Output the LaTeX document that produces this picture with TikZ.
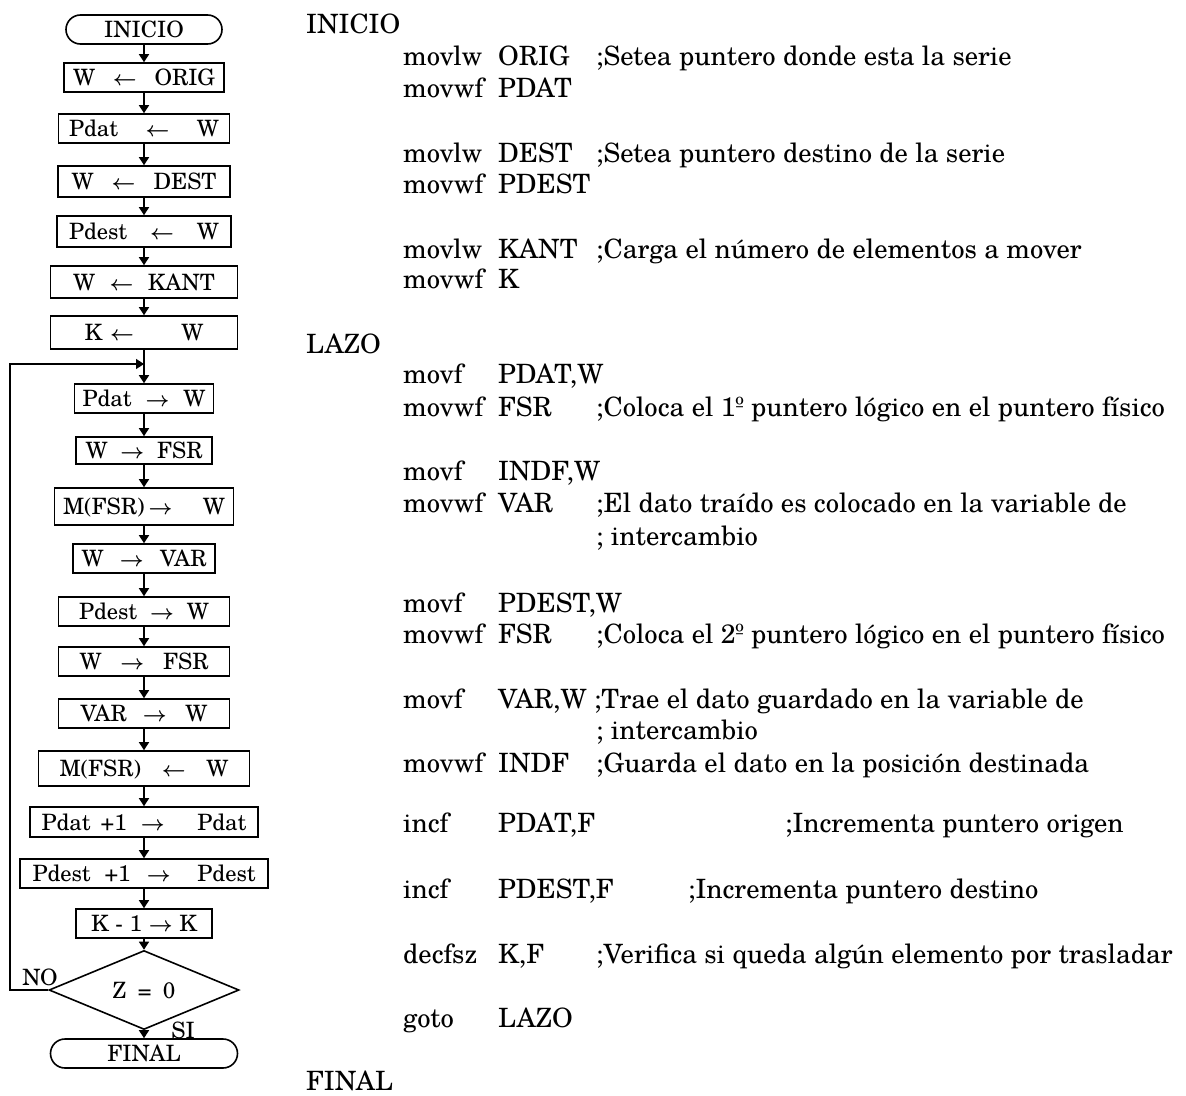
\documentclass[tikz,border=0pt]{standalone}
\usepackage{fontspec}
\setmainfont{TeX Gyre Schola}
\usetikzlibrary{shapes.geometric,shapes.misc,arrows.meta}

% spread the parts of a flowchart label over a fixed width
\newcommand\flrow[2]{\makebox[#1pt]{#2}}
% heavier assignment arrows for the flowchart labels
\newcommand\lar{{\boldmath$\leftarrow$}}
\newcommand\rar{{\boldmath$\rightarrow$}}
% one line of assembler: mnemonic, operand, comment (comment x given)
\newcommand\asmline[6]{%
  \node[code] (#1m) at (403,#2) {#3};
  \node[code] (#1o) at (498,#2) {#4};
  \node[code] (#1c) at (#5,#2) {#6};}

\begin{document}
\begin{tikzpicture}[x=1pt,y=-1pt,
  flow/.style={draw, line width=1.6pt, inner sep=0pt,
    font=\fontsize{22.5}{26}\selectfont, text height=16pt, text depth=0pt},
  proc/.style={flow, rectangle},
  term/.style={flow, rounded rectangle, minimum height=29pt},
  cond/.style={flow, diamond, minimum width=190pt, minimum height=56pt},
  link/.style={line width=1.6pt, -{Triangle[length=8pt,width=10pt]}},
  tag/.style={inner sep=0pt, font=\fontsize{22.5}{26}\selectfont},
  code/.style={anchor=base west, inner sep=0pt, font=\fontsize{26.6}{31}\selectfont}]
\useasboundingbox (0,0) rectangle (1186,1095);

% ---- flowchart ----
\node[term, minimum width=156pt] (t0) at (144,29.5) {INICIO};
\node[proc, minimum width=160pt, minimum height=29pt] (b1) at (144,77.5) {\flrow{142}{W\hfill\lar\hfill ORIG}};
\node[proc, minimum width=171pt, minimum height=29pt] (b2) at (144,128.5) {\flrow{150}{Pdat\hfill\lar\hfill W}};
\node[proc, minimum width=172pt, minimum height=31pt] (b3) at (144,181.5) {\flrow{145}{W\hfill\lar\hfill DEST}};
\node[proc, minimum width=174pt, minimum height=31pt] (b4) at (144,231.5) {\flrow{150}{Pdest\hfill\lar\hfill W}};
\node[proc, minimum width=187pt, minimum height=32pt] (b5) at (144,282) {\flrow{142}{W\hfill\lar\hfill KANT}};
\node[proc, minimum width=187pt, minimum height=33pt] (b6) at (144,332.5) {\flrow{119}{K\hspace{8pt}\lar\hfill W}};
\node[proc, minimum width=139pt, minimum height=29pt] (b7) at (144,398.5) {\flrow{123}{Pdat\hfill\rar\hfill W}};
\node[proc, minimum width=136pt, minimum height=27pt] (b8) at (144,450.5) {\flrow{117}{W\hfill\rar\hfill FSR}};
\node[proc, minimum width=179pt, minimum height=37pt] (b9) at (144,506.5) {\flrow{162}{M(FSR)\hspace{4pt}\rar\hfill W}};
\node[proc, minimum width=142pt, minimum height=29pt] (b10) at (144,558.5) {\flrow{125}{W\hfill\rar\hfill VAR}};
\node[proc, minimum width=171pt, minimum height=29pt] (b11) at (144,611.5) {\flrow{130}{Pdest\hfill\rar\hfill W}};
\node[proc, minimum width=171pt, minimum height=29pt] (b12) at (144,661.5) {\flrow{129}{W\hfill\rar\hfill FSR}};
\node[proc, minimum width=171pt, minimum height=29pt] (b13) at (144,713.5) {\flrow{127}{VAR\hspace{16pt}\rar\hfill W}};
\node[proc, minimum width=211pt, minimum height=35pt] (b14) at (144,768.5) {\flrow{169}{M(FSR)\hfill\lar\hfill W}};
\node[proc, minimum width=228pt, minimum height=30pt] (b15) at (144,822) {\flrow{205}{Pdat\hspace{10pt}+1\hspace{14pt}\rar\hfill Pdat}};
\node[proc, minimum width=248pt, minimum height=29pt] (b16) at (144,873.5) {\flrow{223}{Pdest\hspace{14pt}+1\hspace{16pt}\rar\hfill Pdest}};
\node[proc, minimum width=136pt, minimum height=29pt] (b17) at (144,923.5) {\flrow{106}{K\hfill-\hfill1\hfill\rar\hfill K}};
\node[cond] (cnd) at (144,990) {\flrow{63}{Z\hfill=\hfill0}};
\node[term, minimum width=187pt] (fin) at (144,1053.5) {FINAL};

\node[tag] (no) at (40,977) {NO};
\node[tag] (si) at (183,1030) {SI};

\coordinate (lpa) at (10,990);
\coordinate (lpb) at (10,364);
\coordinate (jn) at (144,364);

\foreach \a/\b in {t0/b1,b1/b2,b2/b3,b3/b4,b4/b5,b5/b6,b6/b7,b7/b8,b8/b9,
  b9/b10,b10/b11,b11/b12,b12/b13,b13/b14,b14/b15,b15/b16,b16/b17,b17/cnd,cnd/fin}
  \draw[link] (\a) -- (\b);
\draw[link] (cnd.west) -- (lpa) -- (lpb) -- (jn);

% ---- assembler listing ----
\node[code] (lbl1) at (306,33) {INICIO};
\asmline{l1}{65}{movlw}{ORIG}{596}{;Setea puntero donde esta la serie}
\node[code] (l2m) at (403,97) {movwf}; \node[code] (l2o) at (498,97) {PDAT};
\asmline{l3}{162}{movlw}{DEST}{596}{;Setea puntero destino de la serie}
\node[code] (l4m) at (403,193) {movwf}; \node[code] (l4o) at (498,193) {PDEST};
\asmline{l5}{258}{movlw}{KANT}{596}{;Carga el número de elementos a mover}
\node[code] (l6m) at (403,288) {movwf}; \node[code] (l6o) at (498,288) {K};

\node[code] (lbl2) at (306,353) {LAZO};
\node[code] (l7m) at (403,383) {movf}; \node[code] (l7o) at (498,383) {PDAT,W};
\asmline{l8}{416}{movwf}{FSR}{596}{;Coloca el 1º puntero lógico en el puntero físico}
\node[code] (l9m) at (403,480) {movf}; \node[code] (l9o) at (498,480) {INDF,W};
\asmline{l10}{512}{movwf}{VAR}{596}{;El dato traído es colocado en la variable de}
\node[code] (l11c) at (596,545) {; intercambio};
\node[code] (l12m) at (403,612) {movf}; \node[code] (l12o) at (498,612) {PDEST,W};
\asmline{l13}{643}{movwf}{FSR}{596}{;Coloca el 2º puntero lógico en el puntero físico}
\node[code] (l14m) at (403,708) {movf}; \node[code] (l14o) at (498,708) {VAR,W};
\node[code, anchor=base west] (l14c) at ([xshift=7pt]l14o.base east) {;Trae el dato guardado en la variable de};
\node[code] (l15c) at (596,739) {; intercambio};
\asmline{l16}{772}{movwf}{INDF}{596}{;Guarda el dato en la posición destinada}
\asmline{l17}{832}{incf}{PDAT,F}{785}{;Incrementa puntero origen}
\asmline{l18}{898}{incf}{PDEST,F}{688}{;Incrementa puntero destino}
\asmline{l19}{963}{decfsz}{K,F}{596}{;Verifica si queda algún elemento por trasladar}
\node[code] (l20m) at (403,1027) {goto}; \node[code] (l20o) at (498,1027) {LAZO};
\node[code] (lbl3) at (306,1090) {FINAL};
\end{tikzpicture}
\end{document}
